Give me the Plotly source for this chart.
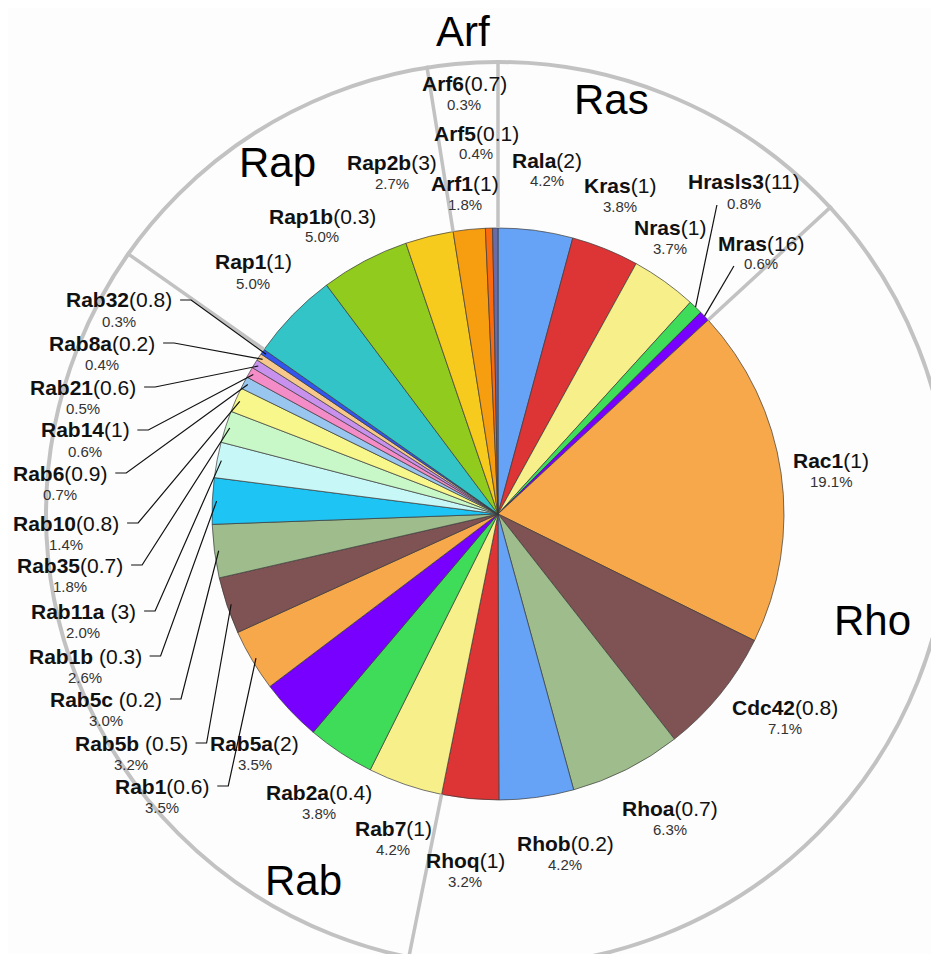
import math
import plotly.graph_objects as go

# ---------------- data (clockwise from 12 o'clock) ----------------
genes = ["Rala", "Kras", "Nras", "Hrasls3", "Mras",
         "Rac1", "Cdc42", "Rhoa", "Rhob", "Rhoq",
         "Rab7", "Rab2a", "Rab5a", "Rab1", "Rab5b", "Rab5c", "Rab1b", "Rab11a",
         "Rab35", "Rab10", "Rab6", "Rab14", "Rab21", "Rab8a", "Rab32",
         "Rap1", "Rap1b", "Rap2b",
         "Arf1", "Arf5", "Arf6"]
gene_family = ["Ras", "Ras", "Ras", "Ras", "Ras",
               "Rho", "Rho", "Rho", "Rho", "Rho",
               "Rab", "Rab", "Rab", "Rab", "Rab", "Rab", "Rab", "Rab",
               "Rab", "Rab", "Rab", "Rab", "Rab", "Rab", "Rab",
               "Rap", "Rap", "Rap",
               "Arf", "Arf", "Arf"]
percent = [4.2, 3.8, 3.7, 0.8, 0.6,
           19.1, 7.1, 6.3, 4.2, 3.2,
           4.2, 3.8, 3.5, 3.5, 3.2, 3.0, 2.6, 2.0,
           1.8, 1.4, 0.7, 0.6, 0.5, 0.4, 0.3,
           5.0, 5.0, 2.7,
           1.8, 0.4, 0.3]
fold = ["2", "1", "1", "11", "16",
        "1", "0.8", "0.7", "0.2", "1",
        "1", "0.4", "2", "0.6", "0.5", "0.2", "0.3", "3",
        "0.7", "0.8", "0.9", "1", "0.6", "0.2", "0.8",
        "1", "0.3", "3",
        "1", "0.1", "0.7"]
families = ["Ras", "Rho", "Rab", "Rap", "Arf"]

# ---------------- styles ----------------
slice_colors = ["#66a3f6", "#dd3535", "#f6ef8a", "#3fdc5a", "#7800ff",
                "#f7a84a", "#7f5353", "#9fbc8d", "#66a3f6", "#dd3535",
                "#f6ef8a", "#3fdc5a", "#7800ff", "#f7a84a", "#7f5353", "#9fbc8d",
                "#1ec4f4", "#c8f7f7", "#c8f7c8", "#f7f78c", "#99c6ef", "#f48cc8",
                "#c891ee", "#f7c88c", "#3355ee",
                "#33c4c8", "#90cb1e", "#f6cb1e",
                "#f79e10", "#fc6a0e", "#6b6ba6"]
spaced = {"Rab11a", "Rab1b", "Rab5c", "Rab5b"}
leader_genes = ["Rab32", "Rab8a", "Rab21", "Rab14", "Rab6", "Rab10", "Rab35",
                "Rab11a", "Rab1b", "Rab5c", "Rab5b", "Rab1"]
top_leader_genes = ["Hrasls3", "Mras"]

# the page body adds an 8px margin, so the figure is drawn 8px in and
# shrunk to fit; positions below are given in window pixels
OFF = 8
FW, FH = 939 - 2 * OFF, 962 - 2 * OFF
CX, CY, R = 498, 514, 286
R_OUT = 452
FONT = "Arial, Liberation Sans, sans-serif"
NAME_SIZE = 21
PCT_SIZE = 15
PCT_DY = 21
FAM_SIZE = 42
GRAY = "#c2c2c2"

# label centres (window pixel layout positions of the name line)
label_xy = {
    "Arf6": (464, 83), "Arf5": (476, 133), "Arf1": (465, 183),
    "Rap2b": (392, 162), "Rap1b": (322, 216), "Rap1": (253, 262),
    "Rala": (547, 160), "Kras": (620, 185), "Nras": (670, 227),
    "Hrasls3": (744, 182), "Mras": (761, 243),
    "Rac1": (831, 460), "Cdc42": (785, 707), "Rhoa": (670, 808),
    "Rhob": (565, 843), "Rhoq": (465, 860),
    "Rab7": (393, 828), "Rab2a": (319, 792), "Rab5a": (255, 743),
    "Rab1": (162, 786), "Rab5b": (131, 743), "Rab5c": (106, 699),
    "Rab1b": (85, 656), "Rab11a": (83, 611), "Rab35": (70, 565),
    "Rab10": (66, 523), "Rab6": (60, 473), "Rab14": (85, 430),
    "Rab21": (83, 387), "Rab8a": (102, 343), "Rab32": (119, 300),
}
family_xy = {"Arf": (463, 31), "Ras": (611, 100), "Rap": (277, 162),
             "Rho": (872, 620), "Rab": (303, 880)}

# approximate Arial advance widths (per 1000 em) to place leader elbows
BOLD_W = {"R": 722, "a": 556, "b": 611, "c": 556, "d": 611, "e": 556, "f": 333,
          "h": 611, "i": 278, "l": 278, "n": 611, "o": 611, "p": 611, "q": 611,
          "r": 389, "s": 556, "A": 722, "C": 722, "H": 722, "K": 722, "M": 833,
          "N": 722}
REG_W = {"(": 333, ")": 333, ".": 278, " ": 278, "%": 889}


def w_bold(s, size):
    return sum(BOLD_W.get(c, 556) for c in s) * size / 1000


def w_reg(s, size):
    return sum(REG_W.get(c, 556) for c in s) * size / 1000


def px(x):
    return (x - OFF) / FW


def py(y):
    return 1 - (y - OFF) / FH


total = sum(percent)
cum_start = []
acc = 0.0
for v in percent:
    cum_start.append(acc)
    acc += v


def point(frac, r):
    t = 2 * math.pi * frac
    return CX + r * math.sin(t), CY - r * math.cos(t)


fig = go.Figure()
fig.add_trace(go.Pie(
    labels=genes, values=percent, sort=False, direction="clockwise", rotation=0,
    marker=dict(colors=slice_colors, line=dict(color="#3a3a3a", width=0.7)),
    textinfo="none", hoverinfo="label+value", showlegend=False,
    domain=dict(x=[px(CX - R), px(CX + R)], y=[py(CY + R), py(CY - R)]),
))

shapes = []
# outer circle
shapes.append(dict(type="circle", xref="paper", yref="paper",
                   x0=px(CX - R_OUT), x1=px(CX + R_OUT),
                   y0=py(CY + R_OUT), y1=py(CY - R_OUT),
                   line=dict(color=GRAY, width=4)))
# family dividers
boundaries = []
for fam in families:
    idx = [i for i, f in enumerate(gene_family) if f == fam]
    boundaries.append((cum_start[idx[-1]] + percent[idx[-1]]) / total)
for b in boundaries:
    x0, y0 = point(b, R)
    x1, y1 = point(b, R_OUT + 2)
    shapes.append(dict(type="line", xref="paper", yref="paper",
                       x0=px(x0), y0=py(y0), x1=px(x1), y1=py(y1),
                       line=dict(color=GRAY, width=3.5)))

annotations = []
for i, g in enumerate(genes):
    cx, cy = label_xy[g]
    sep = " " if g in spaced else ""
    annotations.append(dict(
        x=px(cx), y=py(cy), xref="paper", yref="paper", showarrow=False,
        xanchor="center", yanchor="middle",
        text=f"<b>{g}</b>{sep}({fold[i]})",
        font=dict(family=FONT, size=NAME_SIZE, color="#111111")))
    annotations.append(dict(
        x=px(cx), y=py(cy + PCT_DY), xref="paper", yref="paper", showarrow=False,
        xanchor="center", yanchor="middle",
        text=f"{percent[i]:.1f}%",
        font=dict(family=FONT, size=PCT_SIZE, color="#333333")))

    mid = (cum_start[i] + percent[i] / 2) / total
    if g in leader_genes:
        tw = w_bold(g, NAME_SIZE) + w_reg(f"{sep}({fold[i]})", NAME_SIZE)
        xr = cx + tw / 2 + 8
        tx, ty = point(mid, R * 0.985)
        path = f"M {px(xr)} {py(cy)} L {px(xr + 11)} {py(cy)} L {px(tx)} {py(ty)}"
        shapes.append(dict(type="path", xref="paper", yref="paper", path=path,
                           line=dict(color="#111111", width=1.2)))
    if g in top_leader_genes:
        pw = w_reg(f"{percent[i]:.1f}%", PCT_SIZE)
        sx, sy = cx - pw / 2 - 10, cy + PCT_DY + 2
        tx, ty = point(mid, R)
        shapes.append(dict(type="line", xref="paper", yref="paper",
                           x0=px(sx), y0=py(sy), x1=px(tx), y1=py(ty),
                           line=dict(color="#111111", width=1.2)))

for fam in families:
    fx, fy = family_xy[fam]
    annotations.append(dict(
        x=px(fx), y=py(fy), xref="paper", yref="paper", showarrow=False,
        xanchor="center", yanchor="middle", text=fam,
        font=dict(family=FONT, size=FAM_SIZE, color="#000000")))

fig.update_layout(
    width=FW, height=FH, margin=dict(l=0, r=0, t=0, b=0),
    paper_bgcolor="#fdfdfd", plot_bgcolor="#fdfdfd",
    shapes=shapes, annotations=annotations, showlegend=False,
)

fig.write_html("out.html")
